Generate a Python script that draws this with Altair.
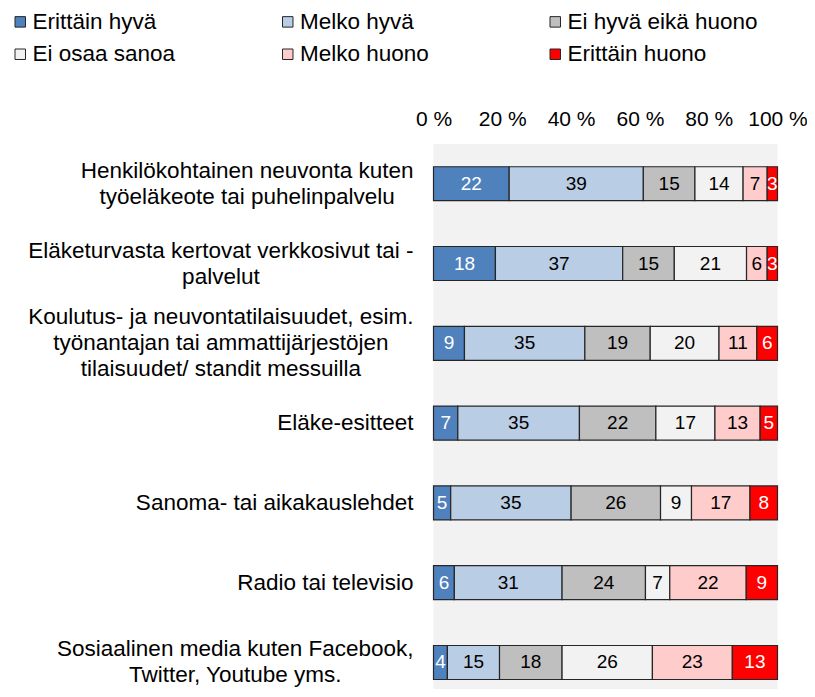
import altair as alt
import pandas as pd

# ---------------- data ----------------
categories = [
    "Henkilökohtainen neuvonta kuten|työeläkeote tai puhelinpalvelu",
    "Eläketurvasta kertovat verkkosivut tai -|palvelut",
    "Koulutus- ja neuvontatilaisuudet, esim.|työnantajan tai ammattijärjestöjen|tilaisuudet/ standit messuilla",
    "Eläke-esitteet",
    "Sanoma- tai aikakauslehdet",
    "Radio tai televisio",
    "Sosiaalinen media kuten Facebook,|Twitter, Youtube yms.",
]
series = ["Erittäin hyvä", "Melko hyvä", "Ei hyvä eikä huono",
          "Ei osaa sanoa", "Melko huono", "Erittäin huono"]
erittain_hyva = [22, 18, 9, 7, 5, 6, 4]
melko_hyva = [39, 37, 35, 35, 35, 31, 15]
ei_hyva_eika_huono = [15, 15, 19, 22, 26, 24, 18]
ei_osaa_sanoa = [14, 21, 20, 17, 9, 7, 26]
melko_huono = [7, 6, 11, 13, 17, 22, 23]
erittain_huono = [3, 3, 6, 5, 8, 9, 13]
x_ticks = [0, 20, 40, 60, 80, 100]

colors = ["#4f81bd", "#b9cde5", "#bfbfbf", "#f2f2f2", "#ffcccc", "#ff0000"]

values = [erittain_hyva, melko_hyva, ei_hyva_eika_huono,
          ei_osaa_sanoa, melko_huono, erittain_huono]
rows = []
for si, (s, vals) in enumerate(zip(series, values)):
    for c, v in zip(categories, vals):
        rows.append({"cat": c, "series": s, "order": si, "value": v})
df = pd.DataFrame(rows)

# ---------------- label layout (Arial/Liberation Sans metrics) ----------------
FONT = "Liberation Sans"
LABEL_FS = 22.5
LINE_H = 26
W = {' ': 278, ',': 278, '-': 333, '.': 278, '/': 278,
     'a': 556, 'b': 556, 'c': 500, 'd': 556, 'e': 556, 'f': 278, 'g': 556,
     'h': 556, 'i': 222, 'j': 222, 'k': 500, 'l': 222, 'm': 833, 'n': 556,
     'o': 556, 'p': 556, 'q': 556, 'r': 333, 's': 500, 't': 278, 'u': 556,
     'v': 500, 'w': 722, 'x': 500, 'y': 500, 'z': 500, 'ä': 556, 'ö': 556,
     'E': 667, 'F': 611, 'H': 722, 'K': 667, 'R': 722, 'S': 667, 'T': 611,
     'Y': 667}


def text_width(s, fs):
    return sum(W.get(ch, 556) for ch in s) * fs / 1000.0


GAP = 20.5   # gap between right edge of the label block and the plot
pads, offs = [], []
for c in categories:
    lines = c.split("|")
    wmax = max(text_width(line, LABEL_FS) for line in lines)
    pads.append(round(GAP + wmax / 2, 1))
    offs.append(-(len(lines) - 1) * LINE_H / 2)


def per_label(vals):
    return {
        "condition": [{"test": "datum.value === '%s'" % c, "value": v}
                      for c, v in zip(categories[:-1], vals[:-1])],
        "value": vals[-1],
    }


# ---------------- chart ----------------
PLOT_W = 344
PLOT_H = 545
PAD_L = 425.5
PAD_T = 136

y_enc = alt.Y(
    "cat:N", sort=categories, title=None,
    scale=alt.Scale(paddingInner=0.574, paddingOuter=0.202, align=0.705),
    axis=alt.Axis(
        labelExpr="split(datum.label, '|')",
        labelAlign="center",
        labelBaseline="middle",
        labelPadding=per_label(pads),
        labelOffset=per_label(offs),
        labelFont=FONT, labelFontSize=LABEL_FS, labelLineHeight=LINE_H,
        labelColor="#000000", labelLimit=0,
        ticks=False, tickSize=0, domain=False, grid=False,
    ),
)

x_scale = alt.Scale(domain=[0, 100], nice=False, zero=True)

base = alt.Chart(df).transform_joinaggregate(
    total="sum(value)", groupby=["cat"]
).transform_calculate(
    pct="datum.value / datum.total * 100"
).transform_stack(
    stack="pct", groupby=["cat"], as_=["x0", "x1"],
    sort=[alt.SortField("order", order="ascending")]
).transform_calculate(
    mid="(datum.x0 + datum.x1) / 2"
)

bars = base.mark_bar(stroke="#262626", strokeWidth=1.2).encode(
    x=alt.X("x0:Q", scale=x_scale, title=None,
            axis=alt.Axis(orient="top", values=x_ticks,
                          labelExpr="datum.value + ' %'",
                          labelFont=FONT, labelFontSize=21, labelColor="#000000",
                          labelFlush=False, labelPadding=15,
                          ticks=False, tickSize=0, domain=False, grid=False)),
    x2="x1:Q",
    y=y_enc,
    color=alt.Color(
        "series:N",
        scale=alt.Scale(domain=series, range=colors),
        legend=alt.Legend(
            title=None, orient="none", legendX=-425, legendY=-133.5,
            direction="horizontal",
            columns=3, gridAlign="all", columnPadding=52.5, rowPadding=9.5,
            symbolType="square", symbolSize=110, symbolOffset=0.5,
            symbolStrokeColor="#262626", symbolStrokeWidth=1,
            labelFont=FONT, labelFontSize=22.5, labelColor="#000000",
            labelOffset=1, labelLimit=0, padding=0,
        ),
    ),
)

labels = base.mark_text(font=FONT, fontSize=19, baseline="middle",
                        align="center").encode(
    x=alt.X("mid:Q", scale=x_scale),
    y=y_enc,
    text=alt.Text("value:Q"),
    color=alt.condition(
        "datum.series === 'Erittäin hyvä' || datum.series === 'Erittäin huono'",
        alt.value("#ffffff"), alt.value("#000000")),
)

chart = alt.layer(bars, labels).properties(
    width=PLOT_W, height=PLOT_H,
    autosize=alt.AutoSizeParams(type="none"),
    padding={"left": PAD_L, "top": PAD_T, "right": 799 - PAD_L - PLOT_W, "bottom": 0},
).configure_view(fill="#f2f2f2", strokeWidth=0)

chart.save("out.html", embed_options={"renderer": "svg", "actions": False})
